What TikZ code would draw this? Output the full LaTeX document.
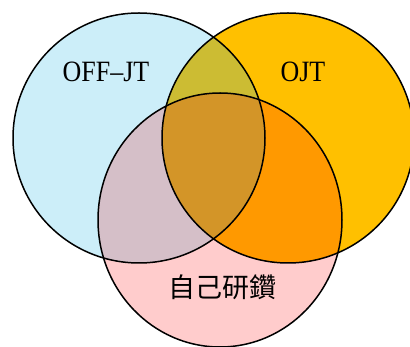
\documentclass[tikz,border=0pt]{standalone}
\usepackage{fontspec}
\setmainfont{Liberation Serif}
\newfontfamily\cjk{Noto Sans CJK TC}
\definecolor{cA}{HTML}{CCEEF9}
\definecolor{cB}{HTML}{FFC000}
\definecolor{cC}{HTML}{FFCCCC}
\definecolor{cAB}{HTML}{CCBC33}
\definecolor{cAC}{HTML}{D5BFC8}
\definecolor{cBC}{HTML}{FF9900}
\definecolor{cABC}{HTML}{D39528}
\tikzset{ring/.style={draw=black,line width=1.5pt},
  lbl/.style={inner sep=0pt,font=\fontsize{29.5}{31}\selectfont}}
\begin{document}
\begin{tikzpicture}[x=1pt,y=-1pt]
\useasboundingbox (0,0) rectangle (410,347);
\clip (0,0) rectangle (410,347);
\fill[cA] (139,138) ellipse [x radius=126pt, y radius=125pt];
\fill[cB] (288,138) ellipse [x radius=126pt, y radius=125pt];
\fill[cC] (220,220) ellipse [x radius=122pt, y radius=127pt];
\begin{scope}
  \clip (139,138) ellipse [x radius=126pt, y radius=125pt];
  \fill[cAB] (288,138) ellipse [x radius=126pt, y radius=125pt];
  \fill[cAC] (220,220) ellipse [x radius=122pt, y radius=127pt];
\end{scope}
\begin{scope}
  \clip (288,138) ellipse [x radius=126pt, y radius=125pt];
  \fill[cBC] (220,220) ellipse [x radius=122pt, y radius=127pt];
\end{scope}
\begin{scope}
  \clip (139,138) ellipse [x radius=126pt, y radius=125pt];
  \clip (288,138) ellipse [x radius=126pt, y radius=125pt];
  \fill[cABC] (220,220) ellipse [x radius=122pt, y radius=127pt];
\end{scope}
\draw[ring] (139,138) ellipse [x radius=126pt, y radius=125pt];
\draw[ring] (288,138) ellipse [x radius=126pt, y radius=125pt];
\draw[ring] (220,220) ellipse [x radius=122pt, y radius=127pt];
\node[lbl] (off) at (106,72) {\scalebox{0.88}[1]{OFF–JT}};
\node[lbl] (ojt) at (303,72) {\scalebox{0.88}[1]{OJT}};
\node[lbl,font=\cjk\fontsize{27}{30}\selectfont] (self) at (222,287) {自己研鑽};
\end{tikzpicture}
\end{document}
